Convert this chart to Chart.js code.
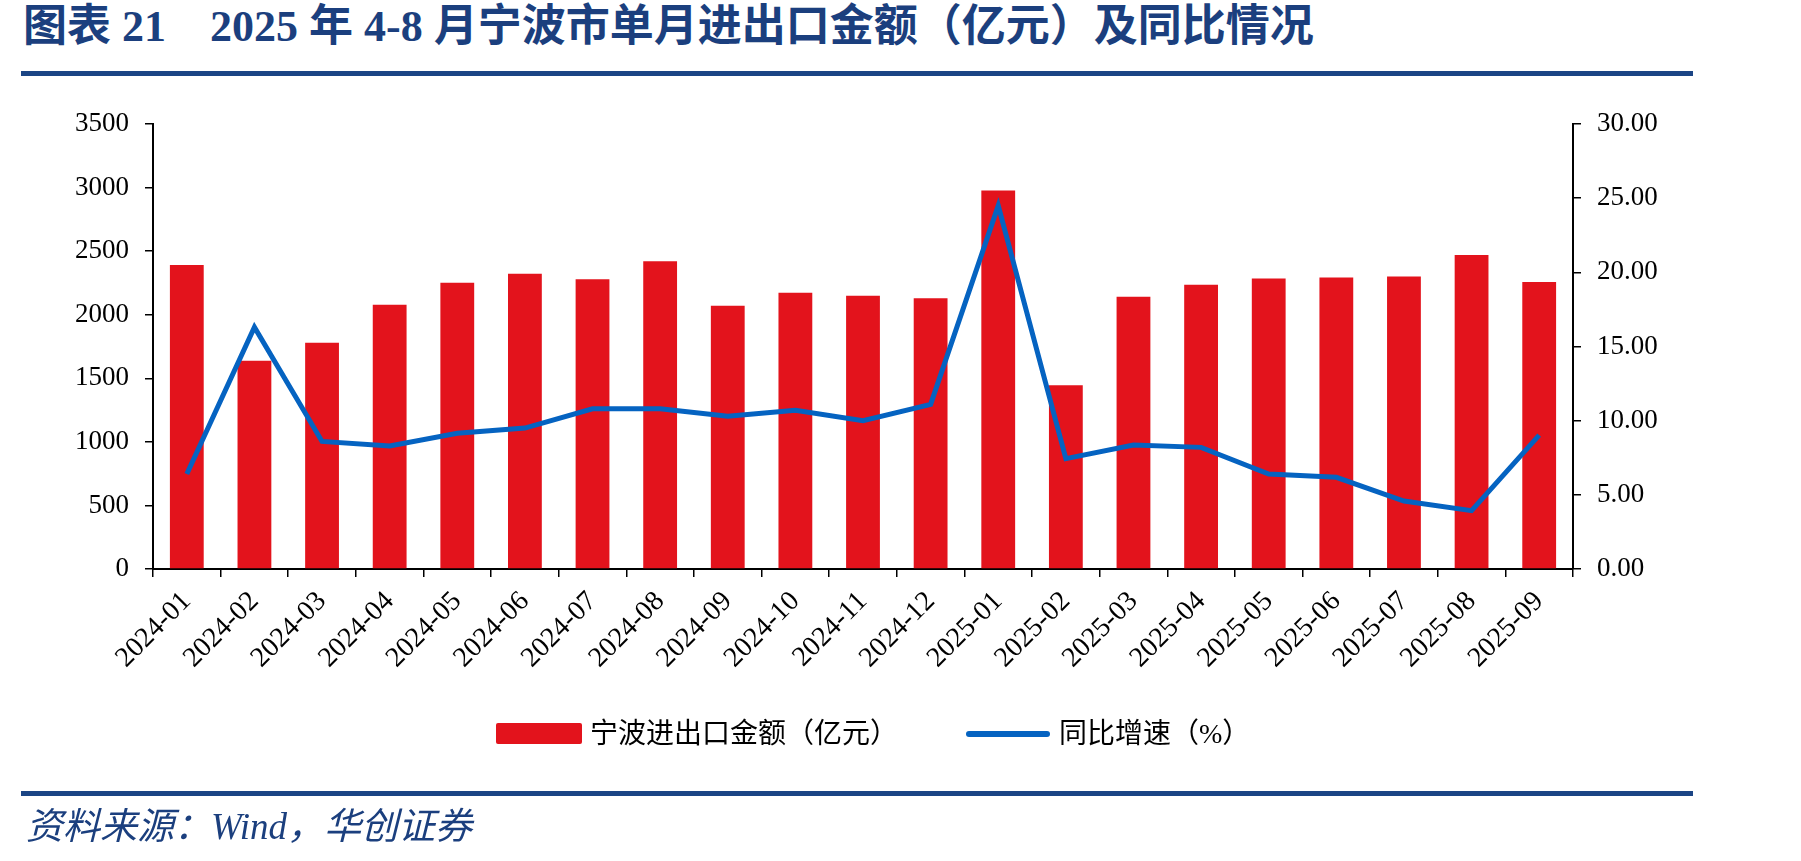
<!DOCTYPE html>
<html>
<head>
<meta charset="utf-8">
<script src="https://cdn.jsdelivr.net/npm/chart.js@4.4.1/dist/chart.umd.min.js"></script>
<style>
  html, body { margin: 0; padding: 0; background: #fff; }
  body { width: 1801px; height: 861px; position: relative; overflow: hidden; }
  #title { position: absolute; left: 23px; top: 1px; font-family: "Liberation Serif", "Noto Sans CJK SC", serif; font-weight: bold; font-size: 44px; color: #1B3F7E; white-space: pre; line-height: 52px; }
  .rule { position: absolute; left: 21px; width: 1672px; height: 5px; background: #1B4585; }
  #source { position: absolute; left: 26px; top: 805px; font-family: "Liberation Serif", "Noto Sans CJK SC", serif; font-style: italic; font-size: 37px; color: #1B3F7E; white-space: pre; line-height: 44px; }
  #chartWrap { position: absolute; left: 0; top: 0; width: 1801px; height: 861px; }
  .legend { position: absolute; top: 716px; font-family: "Liberation Serif", "Noto Sans CJK SC", serif; font-size: 28px; color: #000; line-height: 36px; white-space: pre; }
  .sw-bar { position: absolute; left: 496px; top: 723px; width: 86px; height: 21px; background: #E3131C; border-radius: 2px; }
  .sw-line { position: absolute; left: 966px; top: 731px; width: 84px; height: 6px; background: #0563C1; border-radius: 3px; }
</style>
</head>
<body>
<div id="title">图表 21    2025 年 4-8 月宁波市单月进出口金额（亿元）及同比情况</div>
<div class="rule" style="top:71px"></div>
<div id="chartWrap"><canvas id="c" width="1801" height="861"></canvas></div>
<div class="sw-bar"></div>
<div class="legend" style="left:590px">宁波进出口金额（亿元）</div>
<div class="sw-line"></div>
<div class="legend" style="left:1059px">同比增速（%）</div>
<div class="rule" style="top:791px"></div>
<div id="source">资料来源：Wind，华创证券</div>
<script>
const categories = ["2024-01","2024-02","2024-03","2024-04","2024-05","2024-06","2024-07","2024-08","2024-09","2024-10","2024-11","2024-12","2025-01","2025-02","2025-03","2025-04","2025-05","2025-06","2025-07","2025-08","2025-09"];
const tradeValue = [2391, 1638, 1780, 2079, 2252, 2323, 2278, 2420, 2071, 2173, 2150, 2129, 2976, 1445, 2142, 2236, 2284, 2292, 2300, 2470, 2257];
const yoyGrowth = [6.4, 16.3, 8.6, 8.3, 9.15, 9.5, 10.8, 10.8, 10.3, 10.7, 10.0, 11.1, 24.5, 7.44, 8.36, 8.2, 6.4, 6.18, 4.58, 3.93, 9.03];
const leftTicks = [0, 3500, 500];
const rightTicks = [0, 30, 5];

const tickFont = { family: "'Liberation Serif', 'Times New Roman', serif", size: 27 };

new Chart(document.getElementById('c'), {
  data: {
    labels: categories,
    datasets: [
      { type: 'line', label: '同比增速（%）', data: yoyGrowth, yAxisID: 'y1', borderColor: '#0563C1', backgroundColor: '#0563C1', borderWidth: 5, pointRadius: 0, tension: 0, order: 0, borderJoinStyle: 'miter' },
      { type: 'bar', label: '宁波进出口金额（亿元）', data: tradeValue, yAxisID: 'y', backgroundColor: '#E3131C', categoryPercentage: 1.0, barPercentage: 0.5, order: 1 }
    ]
  },
  options: {
    responsive: false,
    animation: false,
    layout: { padding: { left: 0, right: 128, top: 124, bottom: 162 } },
    plugins: { legend: { display: false }, tooltip: { enabled: false } },
    scales: {
      x: {
        type: 'category',
        offset: true,
        grid: { display: true, drawOnChartArea: false, offset: true, tickLength: 8, color: '#000', lineWidth: 1.5 },
        border: { display: true, color: '#000', width: 2 },
        ticks: { color: '#000', font: { family: tickFont.family, size: 28 }, maxRotation: 45, minRotation: 45, padding: 8, autoSkip: false },
        afterFit: s => { s.height = 130; }
      },
      y: {
        position: 'left',
        min: leftTicks[0], max: leftTicks[1],
        grid: { display: true, drawOnChartArea: false, tickLength: 8, color: '#000', lineWidth: 1.5 },
        border: { display: true, color: '#000', width: 2 },
        ticks: { stepSize: leftTicks[2], color: '#000', font: tickFont, padding: 16, callback: v => String(v) },
        afterFit: s => { s.width = 153; }
      },
      y1: {
        position: 'right',
        min: rightTicks[0], max: rightTicks[1],
        grid: { display: true, drawOnChartArea: false, tickLength: 8, color: '#000', lineWidth: 1.5 },
        border: { display: true, color: '#000', width: 2 },
        ticks: { stepSize: rightTicks[2], color: '#000', font: tickFont, padding: 16, callback: v => Number(v).toFixed(2) },
        afterFit: s => { s.width = 100; }
      }
    }
  }
});
</script>
</body>
</html>
